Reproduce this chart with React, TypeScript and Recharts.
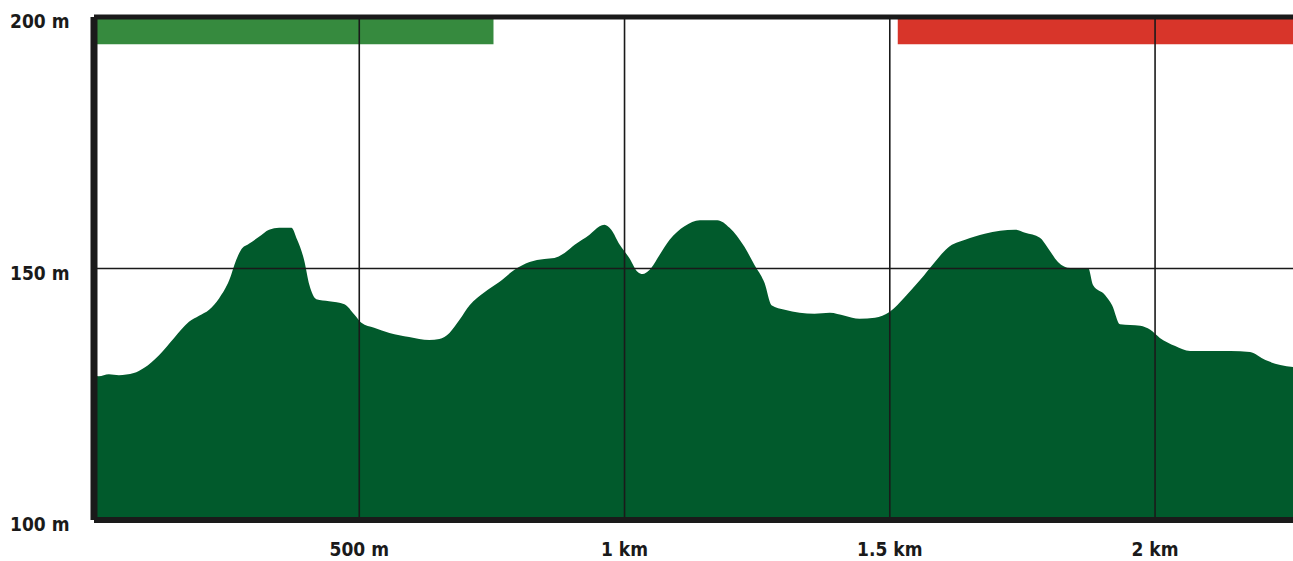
import {
  ComposedChart,
  Area,
  XAxis,
  YAxis,
  ReferenceLine,
  ReferenceArea,
} from 'recharts';

// distance (m) along the route
const distance = [
  0, 9, 28, 47, 75, 94, 123, 151, 179, 198, 217, 236, 255, 268, 277, 292, 311, 330, 349, 372,
  383, 396, 406, 419, 443, 472, 491, 504, 528, 557, 594, 632, 651, 670, 689, 708, 736, 764, 792,
  821, 849, 868, 887, 906, 934, 953, 962, 975, 991, 1009, 1025, 1034, 1047, 1066, 1085, 1113,
  1142, 1175, 1198, 1226, 1245, 1264, 1277, 1302, 1330, 1358, 1387, 1415, 1443, 1472, 1500,
  1528, 1557, 1585, 1609, 1642, 1679, 1708, 1736, 1755, 1783, 1798, 1817, 1840, 1874, 1883,
  1906, 1919, 1934, 1972, 1991, 2009, 2038, 2066, 2104, 2142, 2179, 2208, 2236, 2260,
];

// elevation (m)
const elevation = [
  128.8, 128.6, 129.0, 128.8, 129.2, 130.2, 132.8, 136.2, 139.4, 140.6, 141.8, 144.1, 147.7,
  151.7, 153.7, 154.9, 156.3, 157.7, 158.1, 158.1, 155.7, 151.7, 146.7, 143.9, 143.5, 142.9,
  140.8, 139.2, 138.2, 137.2, 136.4, 135.8, 136.0, 137.2, 139.8, 142.7, 145.3, 147.3, 149.7,
  151.3, 151.9, 152.1, 153.1, 154.7, 156.7, 158.4, 158.7, 157.7, 154.7, 152.1, 149.3, 148.9,
  149.7, 152.7, 155.7, 158.4, 159.6, 159.6, 158.1, 154.3, 150.7, 147.1, 142.7, 141.8, 141.2,
  141.0, 141.2, 140.6, 140.0, 140.2, 141.4, 144.3, 147.7, 151.3, 154.1, 155.7, 156.9, 157.5,
  157.7, 157.1, 156.1, 154.1, 151.3, 150.1, 150.1, 146.7, 144.7, 142.7, 138.9, 138.6, 137.8,
  136.2, 134.6, 133.6, 133.6, 133.6, 133.4, 131.8, 130.8, 130.4,
];

const xTicks = [500, 1000, 1500, 2000];
const xTickLabels = ['500 m', '1 km', '1.5 km', '2 km'];
const yTicks = [100, 150, 200];
const yTickLabels = ['100 m', '150 m', '200 m'];

// coloured bands along the top: [from, to]
const greenBand = [0, 753];
const redBand = [1515, 2260];
const bandBottom = 194.6;

const data = distance.map((d, i) => ({ d, ele: elevation[i] }));

const font = "'DejaVu Sans Condensed', 'Liberation Sans Narrow', sans-serif";
const ink = '#1a1a1a';

const XTick = ({ x, payload }: any) => {
  const i = xTicks.indexOf(payload.value);
  return (
    <text x={x} y={549} textAnchor="middle" dominantBaseline="central"
      fontFamily={font} fontWeight="bold" fontSize={19} fill={ink}>
      {xTickLabels[i]}
    </text>
  );
};

const YTick = ({ y, payload }: any) => {
  const i = yTicks.indexOf(payload.value);
  return (
    <text x={10} y={y + 4} textAnchor="start" dominantBaseline="central"
      fontFamily={font} fontWeight="bold" fontSize={19} fill={ink}>
      {yTickLabels[i]}
    </text>
  );
};

export default function App() {
  return (
    <div style={{ position: 'absolute', left: 0, top: 0, background: '#fff' }}>
      <ComposedChart
        width={1293}
        height={561}
        data={data}
        margin={{ top: 17, right: 0, left: 0, bottom: 0 }}
      >
        <XAxis
          dataKey="d"
          type="number"
          domain={[0, 2260]}
          ticks={xTicks}
          tick={<XTick />}
          tickLine={false}
          axisLine={false}
          height={41}
        />
        <YAxis
          type="number"
          domain={[100, 200]}
          ticks={yTicks}
          tick={<YTick />}
          tickLine={false}
          axisLine={false}
          width={94}
        />
        <Area
          dataKey="ele"
          type="monotoneX"
          stroke="none"
          fill="#015a2c"
          fillOpacity={1}
          isAnimationActive={false}
        />
        <ReferenceArea x1={greenBand[0]} x2={greenBand[1]} y1={bandBottom} y2={200}
          fill="#368a3e" fillOpacity={1} stroke="none" />
        <ReferenceArea x1={redBand[0]} x2={redBand[1]} y1={bandBottom} y2={200}
          fill="#d8352a" fillOpacity={1} stroke="none" />
        {xTicks.map((t) => (
          <ReferenceLine key={t} x={t} stroke={ink} strokeWidth={1.6} />
        ))}
        <ReferenceLine y={150} stroke={ink} strokeWidth={1.6} />
        <ReferenceLine y={200} stroke={ink} strokeWidth={5} />
        <ReferenceLine y={100} stroke={ink} strokeWidth={6} />
        <ReferenceLine x={0} stroke={ink} strokeWidth={7} />
      </ComposedChart>
    </div>
  );
}
